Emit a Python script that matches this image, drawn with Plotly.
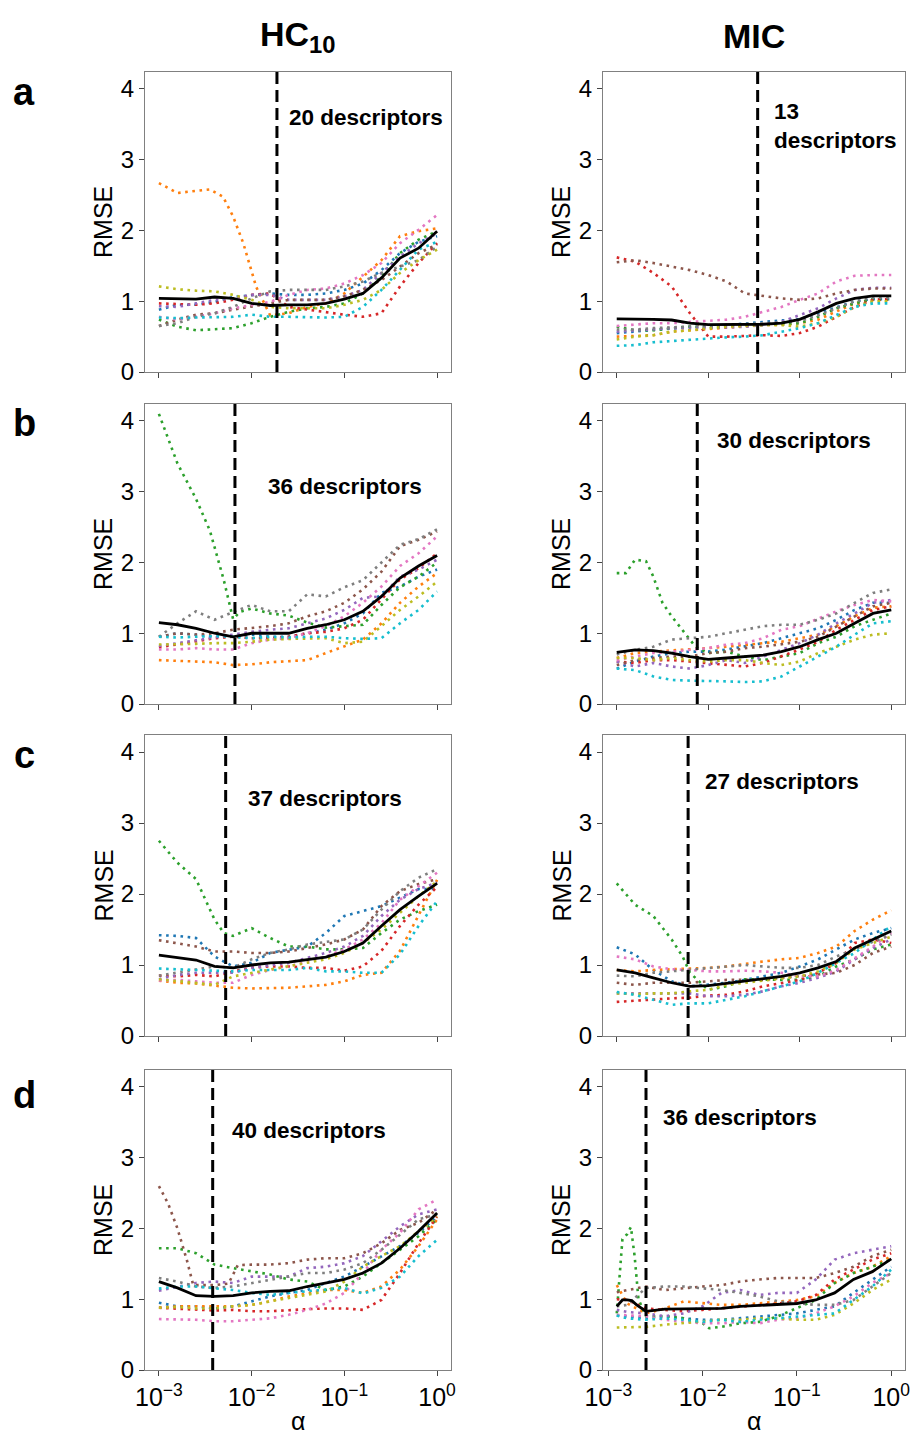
import plotly.graph_objects as go

# ---------------- data (x values are log10(alpha)) ----------------
GRID = [-3.0, -2.8, -2.6, -2.4, -2.2, -2.0, -1.8, -1.6, -1.4, -1.2, -1.0, -0.8, -0.6, -0.4, -0.2, 0.0]
GRID_D_MIC = [-2.91, -2.8, -2.6, -2.4, -2.2, -2.0, -1.8, -1.6, -1.4, -1.2, -1.0, -0.8, -0.6, -0.4, -0.2, 0.0]

SERIES = ["blue", "orange", "green", "red", "purple", "brown", "pink", "gray", "olive", "cyan"]
COLORS = {"blue": "#1f77b4", "orange": "#ff7f0e", "green": "#2ca02c", "red": "#d62728",
          "purple": "#9467bd", "brown": "#8c564b", "pink": "#e377c2", "gray": "#7f7f7f",
          "olive": "#bcbd22", "cyan": "#17becf"}

# Panel a, HC10
A_HC = {
    "blue":   [0.88, 0.95, 0.95, 0.99, 1.06, 1.09, 1.11, 1.09, 1.09, 1.11, 1.16, 1.25, 1.44, 1.68, 1.84, 1.92],
    "green":  [0.74, 0.64, 0.59, 0.60, 0.62, 0.69, 0.78, 0.85, 0.90, 0.92, 0.97, 1.11, 1.35, 1.68, 1.87, 1.99],
    "red":    [0.97, 0.96, 0.95, 0.97, 1.02, 1.09, 1.11, 0.92, 0.88, 0.85, 0.81, 0.78, 0.83, 1.21, 1.54, 1.82],
    "purple": [0.93, 0.92, 0.97, 1.02, 1.04, 1.09, 1.09, 1.02, 1.02, 1.02, 1.07, 1.16, 1.40, 1.63, 1.82, 1.96],
    "brown":  [0.65, 0.74, 0.81, 0.83, 0.88, 0.92, 0.97, 1.02, 1.02, 1.02, 1.07, 1.16, 1.30, 1.49, 1.68, 1.80],
    "pink":   [0.78, 0.74, 0.78, 0.83, 0.90, 0.95, 0.99, 1.09, 1.16, 1.18, 1.25, 1.37, 1.54, 1.82, 2.01, 2.22],
    "gray":   [0.65, 0.69, 0.78, 0.83, 0.92, 1.04, 1.14, 1.16, 1.16, 1.16, 1.21, 1.28, 1.40, 1.49, 1.58, 1.77],
    "olive":  [1.21, 1.17, 1.15, 1.14, 1.09, 1.02, 0.92, 0.90, 0.90, 0.90, 0.95, 1.02, 1.16, 1.40, 1.58, 1.73],
    "cyan":   [0.77, 0.76, 0.77, 0.77, 0.78, 0.81, 0.78, 0.78, 0.77, 0.77, 0.78, 0.92, 1.16, 1.44, 1.73, 1.84],
}
A_HC_ORANGE_X = [-3.0, -2.8, -2.67, -2.45, -2.31, -2.2, -2.09, -2.0, -1.95, -1.8, -1.6, -1.4, -1.2, -1.0, -0.8, -0.6, -0.4, -0.2, 0.0]
A_HC_ORANGE_Y = [2.67, 2.53, 2.55, 2.58, 2.48, 2.20, 1.82, 1.44, 1.20, 0.80, 0.83, 0.92, 0.97, 1.11, 1.35, 1.58, 1.92, 1.99, 2.03]
A_HC_MEAN = [1.04, 1.03, 1.03, 1.06, 1.04, 0.97, 0.94, 0.95, 0.95, 0.97, 1.03, 1.11, 1.33, 1.61, 1.75, 1.99]

# Panel a, MIC
A_MIC = {
    "blue":   [0.55, 0.57, 0.59, 0.62, 0.64, 0.64, 0.665, 0.69, 0.71, 0.73, 0.745, 0.83, 0.92, 1.00, 1.03, 1.03],
    "orange": [0.50, 0.51, 0.52, 0.57, 0.59, 0.60, 0.62, 0.64, 0.665, 0.665, 0.69, 0.74, 0.85, 0.97, 1.02, 1.02],
    "green":  [0.64, 0.59, 0.59, 0.62, 0.64, 0.64, 0.655, 0.665, 0.665, 0.675, 0.69, 0.78, 0.90, 0.97, 1.03, 1.03],
    "red":    [1.62, 1.56, 1.40, 1.21, 0.83, 0.50, 0.50, 0.51, 0.52, 0.51, 0.55, 0.64, 0.78, 0.92, 1.02, 1.03],
    "purple": [0.57, 0.585, 0.60, 0.62, 0.62, 0.62, 0.63, 0.64, 0.665, 0.71, 0.81, 0.90, 1.04, 1.16, 1.19, 1.19],
    "brown":  [1.55, 1.58, 1.54, 1.49, 1.44, 1.37, 1.28, 1.11, 1.07, 1.04, 1.02, 1.04, 1.11, 1.16, 1.18, 1.18],
    "pink":   [0.65, 0.67, 0.69, 0.69, 0.71, 0.72, 0.74, 0.78, 0.85, 0.92, 1.02, 1.11, 1.28, 1.36, 1.37, 1.37],
    "gray":   [0.60, 0.60, 0.62, 0.63, 0.64, 0.65, 0.66, 0.67, 0.68, 0.70, 0.72, 0.80, 0.90, 1.00, 1.05, 1.05],
    "olive":  [0.46, 0.50, 0.52, 0.57, 0.59, 0.62, 0.64, 0.65, 0.665, 0.665, 0.64, 0.69, 0.78, 0.92, 1.00, 1.00],
    "cyan":   [0.37, 0.38, 0.42, 0.44, 0.45, 0.48, 0.49, 0.50, 0.52, 0.57, 0.62, 0.69, 0.81, 0.92, 0.97, 0.97],
}
A_MIC_MEAN = [0.75, 0.75, 0.745, 0.735, 0.69, 0.67, 0.67, 0.67, 0.675, 0.69, 0.745, 0.85, 0.97, 1.04, 1.075, 1.075]

# Panel b, HC10
B_HC = {
    "blue":   [0.95, 1.00, 0.98, 0.95, 0.95, 0.98, 0.95, 0.95, 1.00, 1.05, 1.14, 1.28, 1.57, 1.66, 1.80, 1.90],
    "orange": [0.62, 0.61, 0.60, 0.59, 0.55, 0.56, 0.59, 0.60, 0.62, 0.72, 0.81, 0.91, 1.14, 1.43, 1.66, 1.85],
    "red":    [0.80, 0.84, 0.88, 0.93, 0.95, 0.93, 0.93, 0.95, 1.00, 1.02, 1.07, 1.19, 1.48, 1.76, 1.92, 2.13],
    "purple": [0.82, 0.86, 0.91, 0.95, 0.98, 1.02, 1.05, 1.07, 1.14, 1.21, 1.33, 1.50, 1.52, 1.80, 1.90, 2.04],
    "brown":  [0.95, 1.00, 0.98, 1.00, 1.05, 1.07, 1.10, 1.14, 1.24, 1.31, 1.43, 1.62, 1.87, 2.23, 2.32, 2.44],
    "pink":   [0.77, 0.77, 0.79, 0.77, 0.77, 0.86, 0.91, 0.93, 1.00, 1.10, 1.24, 1.43, 1.66, 1.95, 2.13, 2.37],
    "gray":   [0.95, 1.14, 1.31, 1.19, 1.30, 1.40, 1.31, 1.31, 1.55, 1.52, 1.65, 1.75, 2.00, 2.25, 2.33, 2.47],
    "olive":  [0.84, 0.84, 0.85, 0.86, 0.86, 0.88, 0.91, 0.92, 0.93, 0.93, 0.86, 0.88, 1.10, 1.33, 1.52, 1.73],
    "cyan":   [0.95, 0.94, 0.95, 0.96, 0.95, 0.93, 0.95, 0.94, 0.95, 0.95, 0.93, 0.92, 0.93, 1.14, 1.33, 1.59],
}
B_HC_GREEN_X = [-3.0, -2.8, -2.6, -2.45, -2.3, -2.2, -2.13, -2.0, -1.8, -1.6, -1.4, -1.2, -1.0, -0.8, -0.6, -0.4, -0.2, 0.0]
B_HC_GREEN_Y = [4.10, 3.40, 2.90, 2.45, 1.75, 1.20, 1.30, 1.35, 1.28, 1.25, 1.15, 1.08, 1.10, 1.12, 1.40, 1.65, 1.80, 2.00]
B_HC_MEAN = [1.15, 1.12, 1.07, 1.00, 0.95, 1.00, 1.00, 1.00, 1.07, 1.12, 1.19, 1.31, 1.52, 1.78, 1.95, 2.10]

# Panel b, MIC
B_MIC = {
    "blue":   [0.50, 0.60, 0.67, 0.72, 0.74, 0.74, 0.77, 0.81, 0.86, 0.93, 1.00, 1.07, 1.19, 1.33, 1.43, 1.43],
    "orange": [0.65, 0.72, 0.74, 0.755, 0.765, 0.79, 0.81, 0.84, 0.86, 0.88, 0.93, 0.98, 1.10, 1.24, 1.36, 1.38],
    "red":    [0.60, 0.58, 0.62, 0.62, 0.60, 0.58, 0.55, 0.53, 0.58, 0.67, 0.77, 0.88, 1.05, 1.19, 1.33, 1.38],
    "purple": [0.60, 0.53, 0.58, 0.53, 0.50, 0.55, 0.62, 0.58, 0.67, 0.77, 0.86, 0.98, 1.14, 1.28, 1.43, 1.47],
    "brown":  [0.55, 0.62, 0.65, 0.67, 0.67, 0.72, 0.74, 0.79, 0.81, 0.84, 0.88, 0.95, 1.10, 1.24, 1.38, 1.43],
    "pink":   [0.62, 0.67, 0.72, 0.74, 0.77, 0.79, 0.84, 0.86, 0.93, 1.05, 1.10, 1.21, 1.31, 1.40, 1.47, 1.45],
    "gray":   [0.70, 0.765, 0.81, 0.91, 0.93, 0.95, 1.00, 1.05, 1.10, 1.12, 1.12, 1.19, 1.28, 1.43, 1.57, 1.62],
    "olive":  [0.65, 0.65, 0.62, 0.65, 0.62, 0.60, 0.62, 0.62, 0.58, 0.55, 0.60, 0.72, 0.81, 0.91, 0.98, 1.00],
    "cyan":   [0.50, 0.48, 0.39, 0.34, 0.33, 0.33, 0.32, 0.31, 0.32, 0.39, 0.53, 0.67, 0.81, 0.98, 1.14, 1.17],
}
B_MIC_GREEN_X = [-3.0, -2.9, -2.8, -2.68, -2.6, -2.5, -2.4, -2.28, -2.2, -2.14, -2.0, -1.8, -1.6, -1.4, -1.2, -1.0, -0.8, -0.6, -0.4, -0.2, 0.0]
B_MIC_GREEN_Y = [1.85, 1.85, 2.04, 2.02, 1.80, 1.43, 1.24, 1.05, 0.91, 0.81, 0.72, 0.74, 0.67, 0.62, 0.67, 0.72, 0.86, 0.95, 1.10, 1.19, 1.28]
B_MIC_MEAN = [0.73, 0.765, 0.755, 0.72, 0.67, 0.63, 0.65, 0.67, 0.69, 0.74, 0.81, 0.91, 1.00, 1.14, 1.28, 1.33]

# Panel c, HC10
C_HC = {
    "blue":   [1.42, 1.41, 1.38, 1.12, 0.98, 1.03, 1.17, 1.22, 1.26, 1.45, 1.69, 1.76, 1.83, 1.95, 2.07, 2.07],
    "orange": [0.78, 0.75, 0.74, 0.71, 0.68, 0.67, 0.67, 0.68, 0.70, 0.72, 0.77, 0.86, 0.89, 1.20, 1.70, 2.20],
    "red":    [0.85, 0.84, 0.86, 0.84, 0.91, 0.96, 0.98, 0.98, 0.96, 0.96, 0.92, 0.98, 1.20, 1.55, 1.85, 2.10],
    "purple": [0.80, 0.86, 0.89, 0.89, 0.89, 0.96, 1.00, 1.03, 1.10, 1.17, 1.26, 1.41, 1.69, 1.92, 2.07, 2.16],
    "brown":  [1.35, 1.31, 1.26, 1.19, 1.19, 1.17, 1.17, 1.19, 1.24, 1.29, 1.36, 1.50, 1.83, 2.04, 2.14, 2.21],
    "pink":   [0.78, 0.79, 0.77, 0.75, 0.75, 0.86, 0.93, 0.98, 1.05, 1.12, 1.22, 1.36, 1.59, 1.92, 2.11, 2.30],
    "gray":   [0.85, 0.89, 0.93, 0.98, 0.96, 1.08, 1.17, 1.22, 1.29, 1.33, 1.36, 1.50, 1.78, 2.04, 2.23, 2.35],
    "olive":  [0.80, 0.77, 0.75, 0.72, 0.84, 0.89, 0.93, 0.98, 1.03, 1.08, 1.17, 1.31, 1.50, 1.74, 1.97, 2.18],
    "cyan":   [0.95, 0.94, 0.94, 0.93, 0.91, 0.93, 0.93, 0.93, 0.96, 0.91, 0.91, 0.89, 0.89, 1.15, 1.55, 1.90],
}
C_HC_GREEN_X = [-3.0, -2.8, -2.6, -2.4, -2.3, -2.2, -2.0, -1.8, -1.6, -1.4, -1.2, -1.0, -0.8, -0.6, -0.4, -0.2, 0.0]
C_HC_GREEN_Y = [2.75, 2.44, 2.21, 1.64, 1.45, 1.41, 1.52, 1.38, 1.26, 1.26, 1.22, 1.22, 1.24, 1.45, 1.64, 1.76, 1.85]
C_HC_MEAN = [1.14, 1.10, 1.07, 0.98, 0.96, 1.00, 1.03, 1.04, 1.08, 1.11, 1.19, 1.31, 1.55, 1.78, 1.97, 2.15]

# Panel c, MIC
C_MIC = {
    "blue":   [1.25, 1.15, 0.93, 0.77, 0.70, 0.72, 0.75, 0.79, 0.84, 0.89, 0.98, 1.08, 1.22, 1.36, 1.45, 1.52],
    "orange": [0.93, 0.91, 0.93, 0.94, 0.94, 0.96, 0.98, 1.02, 1.05, 1.08, 1.10, 1.17, 1.26, 1.48, 1.64, 1.77],
    "red":    [0.48, 0.50, 0.51, 0.53, 0.54, 0.57, 0.58, 0.63, 0.70, 0.75, 0.79, 0.89, 1.03, 1.31, 1.36, 1.31],
    "purple": [0.60, 0.60, 0.61, 0.61, 0.60, 0.56, 0.56, 0.58, 0.63, 0.70, 0.75, 0.82, 0.91, 1.08, 1.24, 1.36],
    "brown":  [0.75, 0.72, 0.75, 0.75, 0.75, 0.77, 0.79, 0.79, 0.79, 0.82, 0.84, 0.86, 0.89, 1.00, 1.17, 1.26],
    "pink":   [1.12, 1.08, 0.98, 0.94, 0.93, 0.91, 0.91, 0.92, 0.91, 0.89, 0.84, 0.84, 0.93, 1.10, 1.26, 1.45],
    "gray":   [0.85, 0.84, 0.89, 0.91, 0.94, 0.96, 0.98, 1.00, 0.98, 0.96, 0.96, 1.00, 1.12, 1.22, 1.33, 1.43],
    "olive":  [0.60, 0.59, 0.60, 0.60, 0.63, 0.65, 0.72, 0.75, 0.79, 0.82, 0.84, 0.91, 1.03, 1.22, 1.31, 1.40],
    "cyan":   [0.62, 0.58, 0.51, 0.44, 0.46, 0.46, 0.51, 0.56, 0.63, 0.70, 0.77, 0.89, 1.03, 1.17, 1.36, 1.55],
}
C_MIC_GREEN_X = [-3.0, -2.8, -2.6, -2.4, -2.28, -2.2, -2.0, -1.8, -1.6, -1.4, -1.2, -1.0, -0.8, -0.6, -0.4, -0.2, 0.0]
C_MIC_GREEN_Y = [2.15, 1.85, 1.69, 1.36, 1.12, 0.89, 0.65, 0.70, 0.80, 0.79, 0.79, 0.79, 0.84, 0.98, 1.08, 1.22, 1.29]
C_MIC_MEAN = [0.93, 0.89, 0.82, 0.75, 0.70, 0.71, 0.74, 0.77, 0.81, 0.84, 0.89, 0.96, 1.05, 1.24, 1.36, 1.48]

# Panel d, HC10
D_HC = {
    "blue":   [0.95, 0.90, 0.90, 0.87, 0.90, 0.97, 1.04, 1.09, 1.13, 1.23, 1.32, 1.46, 1.61, 1.75, 1.94, 2.17],
    "orange": [0.88, 0.90, 0.90, 0.90, 0.90, 0.92, 0.97, 1.04, 1.09, 1.13, 1.13, 1.09, 1.18, 1.42, 1.75, 2.13],
    "green":  [1.72, 1.72, 1.65, 1.49, 1.44, 1.39, 1.35, 1.28, 1.25, 1.13, 1.18, 1.32, 1.51, 1.70, 1.89, 2.13],
    "red":    [0.88, 0.87, 0.85, 0.84, 0.85, 0.83, 0.83, 0.85, 0.86, 0.87, 0.87, 0.85, 0.99, 1.37, 1.79, 2.17],
    "purple": [1.12, 1.18, 1.23, 1.25, 1.23, 1.32, 1.32, 1.32, 1.44, 1.46, 1.51, 1.61, 1.82, 2.03, 2.20, 2.27],
    "pink":   [0.72, 0.72, 0.71, 0.69, 0.69, 0.71, 0.73, 0.78, 0.85, 0.94, 1.09, 1.37, 1.70, 1.94, 2.27, 2.41],
    "gray":   [1.30, 1.25, 1.18, 1.16, 1.18, 1.23, 1.28, 1.32, 1.37, 1.37, 1.42, 1.51, 1.70, 1.91, 2.13, 2.20],
    "olive":  [0.88, 0.89, 0.87, 0.87, 0.90, 0.92, 0.97, 1.02, 1.06, 1.11, 1.25, 1.46, 1.61, 1.75, 1.96, 2.17],
    "cyan":   [1.15, 1.18, 1.18, 1.16, 1.13, 1.09, 1.06, 1.09, 1.11, 1.13, 1.16, 1.08, 1.16, 1.32, 1.61, 1.84],
}
D_HC_BROWN_X = [-3.0, -2.9, -2.8, -2.7, -2.63, -2.4, -2.25, -2.15, -2.0, -1.8, -1.6, -1.4, -1.2, -1.0, -0.8, -0.6, -0.4, -0.2, 0.0]
D_HC_BROWN_Y = [2.60, 2.35, 2.00, 1.56, 1.20, 1.20, 1.22, 1.48, 1.49, 1.49, 1.51, 1.56, 1.58, 1.58, 1.65, 1.79, 1.98, 2.08, 2.27]
D_HC_MEAN = [1.25, 1.16, 1.05, 1.04, 1.05, 1.09, 1.11, 1.12, 1.18, 1.23, 1.28, 1.37, 1.51, 1.72, 1.96, 2.22]

# Panel d, MIC
D_MIC = {
    "blue":   [0.77, 0.76, 0.73, 0.76, 0.73, 0.71, 0.71, 0.73, 0.76, 0.78, 0.80, 0.85, 0.90, 1.09, 1.28, 1.46],
    "orange": [1.20, 0.94, 0.80, 0.87, 0.97, 0.94, 0.92, 0.92, 0.94, 0.97, 0.99, 1.04, 1.23, 1.37, 1.46, 1.61],
    "red":    [1.00, 0.99, 0.87, 0.85, 0.83, 0.85, 0.87, 0.90, 0.92, 0.94, 0.97, 1.06, 1.28, 1.42, 1.56, 1.65],
    "purple": [0.85, 0.82, 0.80, 0.76, 0.80, 0.90, 1.09, 1.13, 1.06, 1.09, 1.09, 1.28, 1.56, 1.65, 1.70, 1.75],
    "brown":  [1.10, 1.13, 1.18, 1.13, 1.16, 1.18, 1.20, 1.25, 1.28, 1.30, 1.30, 1.30, 1.37, 1.46, 1.61, 1.70],
    "pink":   [0.78, 0.77, 0.76, 0.71, 0.68, 0.66, 0.66, 0.68, 0.66, 0.71, 0.73, 0.80, 0.90, 1.04, 1.23, 1.37],
    "gray":   [0.90, 0.92, 1.16, 1.18, 1.18, 1.16, 1.13, 1.09, 1.04, 0.97, 0.94, 0.92, 0.92, 0.99, 1.18, 1.37],
    "olive":  [0.60, 0.60, 0.61, 0.64, 0.66, 0.68, 0.71, 0.71, 0.73, 0.73, 0.71, 0.71, 0.78, 0.94, 1.13, 1.28],
    "cyan":   [0.77, 0.73, 0.71, 0.73, 0.71, 0.68, 0.71, 0.68, 0.71, 0.73, 0.76, 0.78, 0.80, 0.99, 1.18, 1.42],
}
D_MIC_GREEN_X = [-2.91, -2.88, -2.85, -2.8, -2.76, -2.72, -2.68, -2.6, -2.4, -2.2, -2.0, -1.93, -1.8, -1.6, -1.4, -1.2, -1.0, -0.8, -0.6, -0.4, -0.2, 0.0]
D_MIC_GREEN_Y = [0.80, 1.30, 1.85, 1.92, 2.02, 1.60, 1.00, 0.76, 0.76, 0.73, 0.66, 0.59, 0.61, 0.66, 0.68, 0.76, 0.87, 0.99, 1.23, 1.37, 1.46, 1.56]
D_MIC_MEAN_X = [-2.91, -2.85, -2.8, -2.75, -2.7, -2.6, -2.4, -2.2, -2.0, -1.8, -1.6, -1.4, -1.2, -1.0, -0.8, -0.6, -0.4, -0.2, 0.0]
D_MIC_MEAN_Y = [0.90, 0.99, 0.99, 0.98, 0.92, 0.83, 0.86, 0.86, 0.87, 0.87, 0.90, 0.91, 0.92, 0.94, 0.99, 1.09, 1.28, 1.39, 1.57]

# selected alpha (log10) and descriptor labels
SELECTED_LOG_ALPHA = [-1.727, -1.46, -2.18, -2.12, -2.28, -2.22, -2.42, -2.60]
LABELS = ["20 descriptors", "13<br>descriptors", "36 descriptors", "30 descriptors",
          "37 descriptors", "27 descriptors", "40 descriptors", "36 descriptors"]
LABEL_POS = [(-1.62, 3.59), (-1.30, 3.48), (-1.85, 3.08), (-1.93, 3.72),
             (-2.06, 3.34), (-2.06, 3.59), (-2.23, 3.38), (-2.44, 3.57)]
ROW_LETTERS = ["a", "b", "c", "d"]
COL_TITLES = ["<b>HC<sub>10</sub></b>", "<b>MIC</b>"]
Y_TICKS = [0, 1, 2, 3, 4]
X_TICK_EXP = [-3, -2, -1, 0]

# ---------------- assemble panel definitions ----------------
def mk(grid, dct, extra):
    lines = []
    for s in SERIES:
        if s in dct:
            lines.append((s, grid, dct[s]))
        else:
            lines.append((s, extra[0], extra[1]))
    return lines

PANELS = [
    (mk(GRID, A_HC, (A_HC_ORANGE_X, A_HC_ORANGE_Y)), (GRID, A_HC_MEAN)),
    (mk(GRID, A_MIC, None), (GRID, A_MIC_MEAN)),
    (mk(GRID, B_HC, (B_HC_GREEN_X, B_HC_GREEN_Y)), (GRID, B_HC_MEAN)),
    (mk(GRID, B_MIC, (B_MIC_GREEN_X, B_MIC_GREEN_Y)), (GRID, B_MIC_MEAN)),
    (mk(GRID, C_HC, (C_HC_GREEN_X, C_HC_GREEN_Y)), (GRID, C_HC_MEAN)),
    (mk(GRID, C_MIC, (C_MIC_GREEN_X, C_MIC_GREEN_Y)), (GRID, C_MIC_MEAN)),
    (mk(GRID, D_HC, (D_HC_BROWN_X, D_HC_BROWN_Y)), (GRID, D_HC_MEAN)),
    (mk(GRID_D_MIC, D_MIC, (D_MIC_GREEN_X, D_MIC_GREEN_Y)), (D_MIC_MEAN_X, D_MIC_MEAN_Y)),
]

# ---------------- layout geometry (pixels) ----------------
W, H = 913, 1437
COL_X = [(145, 451), (603, 905)]
ROW_Y = [(72, 372), (404, 704), (735, 1036), (1070, 1370)]
LETTER_Y = [92, 423, 755, 1095]
X_RANGES = [[-3.15, 0.15]] * 7 + [[-3.056, 0.146]]
Y_RANGE = [0, 4.24]
FONT = "Liberation Sans, Arial, Helvetica, sans-serif"

fig = go.Figure()
layout = dict(width=W, height=H, margin=dict(l=0, r=0, t=0, b=0, autoexpand=False),
              paper_bgcolor="white", plot_bgcolor="white", showlegend=False,
              font=dict(family=FONT, color="black"))
annotations = []

for i, (lines, mean) in enumerate(PANELS):
    r, c = divmod(i, 2)
    xa = "x" if i == 0 else f"x{i+1}"
    ya = "y" if i == 0 else f"y{i+1}"
    for name, xs, ys in lines:
        fig.add_trace(go.Scatter(x=[10 ** v for v in xs], y=ys, mode="lines",
                                 line=dict(color=COLORS[name], width=2.6, dash="2.6px,4.6px"),
                                 xaxis=xa, yaxis=ya, hoverinfo="skip"))
    fig.add_trace(go.Scatter(x=[10 ** v for v in mean[0]], y=mean[1], mode="lines",
                             line=dict(color="black", width=2.8),
                             xaxis=xa, yaxis=ya, hoverinfo="skip"))
    sel = 10 ** SELECTED_LOG_ALPHA[i]
    fig.add_trace(go.Scatter(x=[sel, sel], y=Y_RANGE, mode="lines",
                             line=dict(color="black", width=3, dash="12px,6px"),
                             xaxis=xa, yaxis=ya, hoverinfo="skip"))

    x0, x1 = COL_X[c]
    yt, yb = ROW_Y[r]
    bottom = (r == 3)
    axkey = "xaxis" if i == 0 else f"xaxis{i+1}"
    aykey = "yaxis" if i == 0 else f"yaxis{i+1}"
    layout[axkey] = dict(
        domain=[x0 / W, x1 / W], anchor=ya, type="log", range=X_RANGES[i],
        automargin=False,
        showgrid=False, zeroline=False, showline=True, mirror=True,
        linecolor="#808080", linewidth=1.2,
        ticks="outside", ticklen=5, tickwidth=1.2, tickcolor="#444",
        tickvals=[10 ** e for e in X_TICK_EXP],
        ticktext=[f"10<sup>{'−' if e < 0 else ''}{abs(e)}</sup>" for e in X_TICK_EXP],
        showticklabels=bottom, tickfont=dict(size=25, family=FONT, color="black"),
    )
    layout[aykey] = dict(
        domain=[1 - yb / H, 1 - yt / H], anchor=xa, range=Y_RANGE,
        automargin=False,
        showgrid=False, zeroline=False, showline=True, mirror=True,
        linecolor="#808080", linewidth=1.2,
        ticks="outside", ticklen=5, tickwidth=1.2, tickcolor="#444",
        tickvals=Y_TICKS, tickfont=dict(size=24, family=FONT, color="black"),
    )
    # descriptor label
    lx, ly = LABEL_POS[i]
    annotations.append(dict(x=lx, y=ly, xref=xa, yref=ya, text=f"<b>{LABELS[i]}</b>",
                            showarrow=False, xanchor="left", yanchor="middle", align="left",
                            font=dict(size=22.5, family=FONT, color="black")))
    # RMSE label
    annotations.append(dict(x=(x0 - 42) / W, y=1 - (yt + yb) / 2 / H, xref="paper", yref="paper",
                            text="RMSE", textangle=-90, showarrow=False,
                            xanchor="center", yanchor="middle",
                            font=dict(size=25, family=FONT, color="black")))
    if bottom:
        annotations.append(dict(x=(x0 + x1) / 2 / W, y=1 - 1421 / H, xref="paper", yref="paper",
                                text="α", showarrow=False, xanchor="center", yanchor="middle",
                                font=dict(size=25, family=FONT, color="black")))

for r, letter in enumerate(ROW_LETTERS):
    annotations.append(dict(x=24 / W, y=1 - LETTER_Y[r] / H, xref="paper", yref="paper",
                            text=f"<b>{letter}</b>", showarrow=False,
                            xanchor="center", yanchor="middle",
                            font=dict(size=38, family=FONT, color="black")))

for c, title in enumerate(COL_TITLES):
    x0, x1 = COL_X[c]
    annotations.append(dict(x=(x0 + x1) / 2 / W, y=1 - 36 / H, xref="paper", yref="paper",
                            text=title, showarrow=False, xanchor="center", yanchor="middle",
                            font=dict(size=34, family=FONT, color="black")))

layout["annotations"] = annotations
fig.update_layout(**layout)
fig.write_html("out.html")
